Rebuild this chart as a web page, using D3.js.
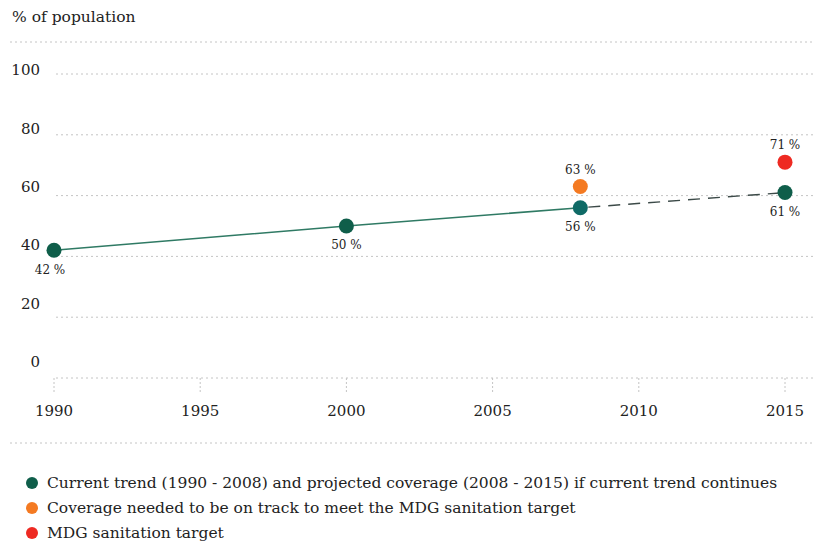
<!DOCTYPE html>
<html>
<head>
<meta charset="utf-8">
<script src="https://cdn.jsdelivr.net/npm/d3@7"></script>
<style>
  html, body { margin: 0; padding: 0; background: #fff; }
  svg { display: block; }
  text { font-family: "DejaVu Serif", "Liberation Serif", serif; fill: #222; }
</style>
</head>
<body>
<svg id="chart" width="814" height="544"></svg>
<script>
// Sanitation coverage, % of population
const trendYears = [1990, 2000, 2008];
const trendValues = [42, 50, 56];
const projYears = [2008, 2015];
const projValues = [56, 61];
const onTrackYear = [2008];
const onTrackValue = [63];
const targetYear = [2015];
const targetValue = [71];
const yTicks = [0, 20, 40, 60, 80, 100];
const xTicks = [1990, 1995, 2000, 2005, 2010, 2015];
const legendLabels = [
  "Current trend (1990 - 2008) and projected coverage (2008 - 2015) if current trend continues",
  "Coverage needed to be on track to meet the MDG sanitation target",
  "MDG sanitation target"
];
const colors = { trend: "#0f5e4a", trend2008: "#0f6a66", onTrack: "#f47a22", target: "#ee2a22" };

const svg = d3.select("#chart");

const x = d3.scaleLinear().domain([1990, 2015]).range([54, 785]);
const y = d3.scaleLinear().domain([0, 100]).range([378, 74]);
// tick text sits on its own evenly spaced scale
const yText = d3.scaleLinear().domain([0, 100]).range([362, 70]);

const dotted = { stroke: "#c4c4c4", dash: "2,3" };

// title
svg.append("text").attr("x", 12).attr("y", 22).attr("font-size", 15.5).text("% of population");

// frame rules
svg.append("line").attr("x1", 10).attr("x2", 814).attr("y1", 42).attr("y2", 42)
  .attr("stroke", dotted.stroke).attr("stroke-dasharray", dotted.dash);
svg.append("line").attr("x1", 10).attr("x2", 814).attr("y1", 443).attr("y2", 443)
  .attr("stroke", dotted.stroke).attr("stroke-dasharray", dotted.dash);

// horizontal grid
svg.append("g").selectAll("line").data(yTicks).join("line")
  .attr("x1", 56).attr("x2", 814)
  .attr("y1", d => y(d)).attr("y2", d => y(d))
  .attr("stroke", dotted.stroke).attr("stroke-dasharray", dotted.dash);

// y tick labels
svg.append("g").selectAll("text").data(yTicks).join("text")
  .attr("x", 40).attr("y", d => yText(d)).attr("dy", "0.35em")
  .attr("text-anchor", "end").attr("font-size", 15).text(d => d);

// x ticks and labels
const xg = svg.append("g");
xg.selectAll("line").data(xTicks).join("line")
  .attr("x1", d => x(d)).attr("x2", d => x(d))
  .attr("y1", y(0)).attr("y2", y(0) + 14)
  .attr("stroke", dotted.stroke).attr("stroke-dasharray", "2,2");
xg.selectAll("text").data(xTicks).join("text")
  .attr("x", d => x(d)).attr("y", 411).attr("dy", "0.35em")
  .attr("text-anchor", "middle").attr("font-size", 15).text(d => d);

// trend line (solid) and projection (dashed)
const line = d3.line().x(d => x(d[0])).y(d => y(d[1]));
svg.append("path").datum(d3.zip(trendYears, trendValues))
  .attr("d", line).attr("fill", "none").attr("stroke", "#2f7a64").attr("stroke-width", 1.6);
svg.append("path").datum(d3.zip(projYears, projValues))
  .attr("d", line).attr("fill", "none").attr("stroke", "#3c4a48").attr("stroke-width", 1.4)
  .attr("stroke-dasharray", "12,8").attr("stroke-dashoffset", -8);

// points
const pts = [];
trendYears.forEach((yr, i) => pts.push({ yr, v: trendValues[i], c: yr === 2008 ? colors.trend2008 : colors.trend, pos: "below" }));
pts.push({ yr: projYears[1], v: projValues[1], c: colors.trend, pos: "below" });
pts.push({ yr: onTrackYear[0], v: onTrackValue[0], c: colors.onTrack, pos: "above" });
pts.push({ yr: targetYear[0], v: targetValue[0], c: colors.target, pos: "above" });

svg.append("g").selectAll("circle").data(pts).join("circle")
  .attr("cx", d => x(d.yr)).attr("cy", d => y(d.v)).attr("r", 7.5)
  .attr("fill", d => d.c);

svg.append("g").selectAll("text").data(pts).join("text")
  .attr("x", d => x(d.yr) + (d.yr === 1990 ? -4 : 0))
  .attr("y", d => y(d.v) + (d.pos === "below" ? 19 : -17))
  .attr("dy", "0.35em").attr("text-anchor", "middle")
  .attr("font-family", "'DejaVu Sans', sans-serif").attr("font-size", 12)
  .attr("fill", "#333").text(d => d.v + " %");

// legend
const legendColors = [colors.trend, colors.onTrack, colors.target];
const lg = svg.append("g").selectAll("g").data(legendLabels).join("g")
  .attr("transform", (d, i) => `translate(0, ${483 + i * 25})`);
lg.append("circle").attr("cx", 32).attr("cy", 0).attr("r", 6)
  .attr("fill", (d, i) => legendColors[i]);
lg.append("text").attr("x", 47).attr("y", 0).attr("dy", "0.35em")
  .attr("font-size", 15.5).text(d => d);
</script>
</body>
</html>
